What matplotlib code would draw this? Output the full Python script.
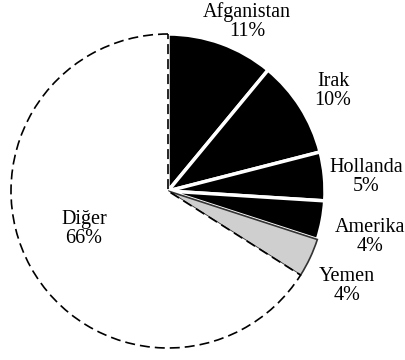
import matplotlib.pyplot as plt

# 国家占比
countries = ['Afganistan', 'Irak', 'Hollanda', 'Amerika', 'Yemen', 'Diğer']
shares = [11, 10, 5, 4, 4, 66]
# 标签位置（像素坐标，原点左上）
label_xy = [(247, 22), (333, 91), (366, 177), (370, 237), (347, 286), (84, 229)]

plt.rcParams['font.family'] = ['Liberation Serif', 'DejaVu Serif']

fig = plt.figure(figsize=(4.05, 3.6), dpi=100)
ax = fig.add_axes([0, 0, 1, 1])

wedges, _ = ax.pie(shares, startangle=90, counterclock=False,
                   center=(168, 360 - 191), radius=157, frame=True)
ax.set_xlim(0, 405)
ax.set_ylim(0, 360)
ax.set_aspect('equal')
ax.axis('off')

# 前四块黑色，白色分隔线
for w in wedges[:4]:
    w.set_facecolor('black')
    w.set_edgecolor('white')
    w.set_linewidth(2.5)
wedges[4].set_facecolor('#cfcfcf')
wedges[4].set_edgecolor('#333333')
wedges[4].set_linewidth(1.2)
# 其他：白底虚线
wedges[5].set_facecolor('white')
wedges[5].set_edgecolor('black')
wedges[5].set_linestyle((0, (6, 3)))
wedges[5].set_linewidth(1.2)
wedges[5].set_zorder(3)

for name, v, (x, y) in zip(countries, shares, label_xy):
    ax.text(x, 360 - y, '%s\n%d%%' % (name, v), ha='center', va='center',
            fontsize=14.5, linespacing=1.0)

plt.savefig('out.png', dpi=100)
